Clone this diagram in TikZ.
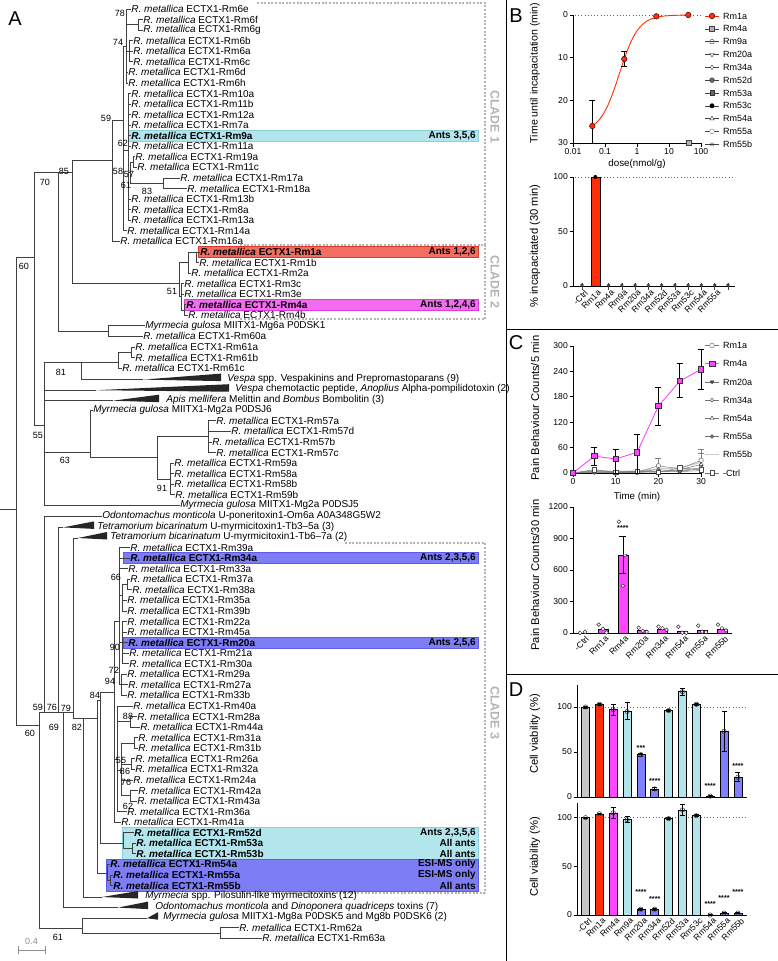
\documentclass[tikz,border=0pt]{standalone}
\usepackage{fontspec}
\setmainfont{Liberation Sans}
\usetikzlibrary{plotmarks}

\definecolor{hlcyan}{HTML}{B3E5EC}
\definecolor{hlcyanline}{HTML}{8CCFDA}
\definecolor{hlred}{HTML}{F26E62}
\definecolor{hlredline}{HTML}{D9392B}
\definecolor{hlmag}{HTML}{F46CF1}
\definecolor{hlmagline}{HTML}{DE3ADB}
\definecolor{hlblue}{HTML}{7D7DF5}
\definecolor{hlblueline}{HTML}{5B5BE6}
\definecolor{cladegray}{HTML}{B4B4B4}
\definecolor{redbar}{HTML}{FF2D0A}
\definecolor{magbar}{HTML}{FF45FF}
\definecolor{bluebar}{HTML}{7F7FFF}
\definecolor{cyanbar}{HTML}{B2E5EB}
\definecolor{graybar}{HTML}{C6C6C6}

\newcommand\leaffont{\fontsize{10}{10.5}\selectfont}
\newcommand\suppfont{\fontsize{9}{10}\selectfont}
\newcommand\tickfont{\fontsize{8.6}{9}\selectfont}
\newcommand\titlefont{\fontsize{11.2}{12}\selectfont}

\begin{document}
\begin{tikzpicture}[x=1pt,y=-1pt,
  leaf/.style={anchor=west, inner sep=0.2pt, font=\leaffont},
  boldleaf/.style={leaf, font=\leaffont\bfseries},
  branch/.style={draw=black!75, line width=0.7pt},
  supp/.style={inner sep=0pt, font=\suppfont},
  antsnote/.style={anchor=east, inner sep=0pt, font=\leaffont\bfseries},
  cladebox/.style={draw=cladegray, line width=1.4pt, dash pattern=on 2pt off 1.6pt},
  cladelab/.style={rotate=-90, text=cladegray, font=\fontsize{12.5}{13}\selectfont\bfseries},
  panellab/.style={inner sep=0pt, font=\fontsize{20}{20}\selectfont},
  axisline/.style={draw=black, line width=0.8pt},
  ticklab/.style={inner sep=1pt, font=\tickfont},
  axistitle/.style={rotate=90, inner sep=0pt, font=\titlefont},
  xtitle/.style={inner sep=0pt, font=\fontsize{9.8}{10}\selectfont},
  legendlab/.style={anchor=west, inner sep=0pt, font=\fontsize{9}{10}\selectfont},
  catlab/.style={rotate=45, anchor=north east, inner sep=0pt, font=\fontsize{8.6}{9}\selectfont},
  refline/.style={draw=black!60, line width=0.7pt, dash pattern=on 0.7pt off 2.5pt},
  errbar/.style={draw=black, line width=0.6pt},
  stars/.style={inner sep=0pt, font=\fontsize{7.2}{7.2}\selectfont\bfseries}]
\fill[white] (0,0) rectangle (778,961);
\useasboundingbox (0,0) rectangle (778,961);

\filldraw[fill=hlcyan, draw=hlcyanline, line width=0.6pt] (128,130.2) rectangle (478,141.2);
\filldraw[fill=hlred, draw=hlredline, line width=0.6pt] (198,246.4) rectangle (478,257.4);
\filldraw[fill=hlmag, draw=hlmagline, line width=0.6pt] (184,299.2) rectangle (478,310.2);
\filldraw[fill=hlblue, draw=hlblueline, line width=0.6pt] (123,552.6) rectangle (478,563.6);
\filldraw[fill=hlblue, draw=hlblueline, line width=0.6pt] (123,637.1) rectangle (478,648.1);
\filldraw[fill=hlcyan, draw=hlcyanline, line width=0.6pt] (122,827.4) rectangle (478,859.1);
\filldraw[fill=hlblue, draw=hlblueline, line width=0.6pt] (106,859.1) rectangle (478,890.8);

\draw[cladebox] (257,3) -- (485,3) -- (485,245);
\draw[cladebox] (240,245) -- (485,245) -- (485,319) -- (240,319);
\draw[cladebox] (345,543) -- (485,543) -- (485,893) -- (230,893);
\node[cladelab] (clade1) at (495,117) {CLADE 1};
\node[cladelab] (clade2) at (495,282) {CLADE 2};
\node[cladelab] (clade3) at (495,713) {CLADE 3};

\coordinate (rootstub) at (0,509);
\coordinate (root) at (16,509);
\coordinate (nA) at (34,257);
\coordinate (nB) at (58,172);
\coordinate (nD) at (72,172);
\coordinate (nF) at (112,160);
\coordinate (nJ) at (123,120);
\coordinate (nH) at (126,46);
\coordinate (n78) at (138,24.8);
\coordinate (n74) at (129,51.2);
\coordinate (nI) at (128,150);
\coordinate (n58) at (130,172);
\coordinate (n57) at (133,162.1);
\coordinate (n83) at (163,183.2);
\coordinate (nE) at (179,283);
\coordinate (nTop) at (188,262);
\coordinate (n1) at (196,251.9);
\coordinate (n51) at (181,296);
\coordinate (n4) at (184,310);
\coordinate (nMg6) at (108,331);
\coordinate (nC) at (44,425);
\coordinate (n81) at (81,362);
\coordinate (nR61) at (118,362);
\coordinate (n61ab) at (131,352.2);
\coordinate (n63) at (90,452);
\coordinate (n5759) at (157,457);
\coordinate (n57g) at (208,436.7);
\coordinate (n59g) at (170,479);
\coordinate (L0) at (39,725);
\coordinate (L1) at (44,712);
\coordinate (L2) at (58,712);
\coordinate (L3) at (63,712);
\coordinate (L4) at (73,712);
\coordinate (L5) at (83,718);
\coordinate (L6) at (97,718);
\coordinate (L7) at (100,700);
\coordinate (M1) at (114,692);
\coordinate (M2) at (119,621);
\coordinate (n66) at (122,595);
\coordinate (n3738) at (127,584.5);
\coordinate (n90) at (122,642.6);
\coordinate (n72) at (121,684.8);
\coordinate (M3) at (117,759);
\coordinate (n88) at (130,721.8);
\coordinate (n86) at (121,770);
\coordinate (n31) at (134,742.9);
\coordinate (n55b) at (131,764);
\coordinate (n62) at (130,795.7);
\coordinate (n52) at (123,843);
\coordinate (n53) at (132,848.5);
\coordinate (n55) at (107,873);
\coordinate (n55ab) at (110,880.2);
\coordinate (n61) at (82,928);
\coordinate (nR62) at (220,933);
\coordinate (a35) at (143,379.6);
\coordinate (a36) at (96,390.2);
\coordinate (a37) at (113,400.7);
\coordinate (a49) at (63,527.4);
\coordinate (a50) at (78,538);
\coordinate (a84) at (102,897);
\coordinate (a85) at (118,907.6);
\coordinate (a86) at (147,918.2);

\foreach \i/\x/\nm in {0/131/6e,1/143/6f,2/143/6g,3/133/6b,4/133/6a,5/133/6c,6/128/6d,7/128/6h,8/131/10a,9/131/11b,10/131/12a,11/131/7a,13/131/11a,14/135/19a,15/137/11c,16/180/17a,17/187/18a,18/131/13b,19/131/8a,20/131/13a,21/127/14a,22/120/16a,24/199/1b,25/191/2a,26/184/3c,27/184/3e,29/188/4b,31/143/60a,32/135/61a,33/135/61b,34/122/61c,39/216/57a,40/231/57d,41/212/57b,42/216/57c,43/174/59a,44/174/58a,45/174/58b,46/175/59b,51/130/39a,53/128/33a,54/130/37a,55/132/38a,56/127/35a,57/127/39b,58/127/22a,59/127/45a,61/129/21a,62/129/30a,63/127/29a,64/128/27a,65/127/33b,66/133/40a,67/137/28a,68/140/44a,69/138/31a,70/138/31b,71/135/26a,72/135/32a,73/133/24a,74/138/42a,75/137/43a,76/127/36a,77/121/41a,87/239/62a,88/262/63a}
  \node[leaf] (t\i) at (\x,{9+10.56*\i}) {\textit{R. metallica} ECTX1-Rm\nm};
\foreach \i/\x/\nm in {12/131/9a,23/200/1a,28/186/4a,52/130/34a,60/128/20a,78/134/52d,79/136/53a,80/136/53b,81/110/54a,82/113/55a,83/113/55b}
  \node[boldleaf] (t\i) at (\x,{9+10.56*\i}) {\textit{R. metallica} ECTX1-Rm\nm};
\node[leaf] (t30) at (145,{9+10.56*30}) {\textit{Myrmecia gulosa} MIITX1-Mg6a P0DSK1};
\node[leaf] (t35) at (227,{9+10.56*35}) {\textit{Vespa} spp. Vespakinins and Prepromastoparans (9)};
\node[leaf] (t36) at (235,{9+10.56*36}) {\textit{Vespa} chemotactic peptide, \textit{Anoplius} Alpha-pompilidotoxin (2)};
\node[leaf] (t37) at (166,{9+10.56*37}) {\textit{Apis mellifera} Melittin and \textit{Bombus} Bombolitin (3)};
\node[leaf] (t38) at (93,{9+10.56*38}) {\textit{Myrmecia gulosa} MIITX1-Mg2a P0DSJ6};
\node[leaf] (t47) at (180,{9+10.56*47}) {\textit{Myrmecia gulosa} MIITX1-Mg2a P0DSJ5};
\node[leaf] (t48) at (102,{9+10.56*48}) {\textit{Odontomachus monticola} U-poneritoxin1-Om6a A0A348G5W2};
\node[leaf] (t49) at (97,{9+10.56*49}) {\textit{Tetramorium bicarinatum} U-myrmicitoxin1-Tb3–5a (3)};
\node[leaf] (t50) at (110,{9+10.56*50}) {\textit{Tetramorium bicarinatum} U-myrmicitoxin1-Tb6–7a (2)};
\node[leaf] (t84) at (145,{9+10.56*84}) {\textit{Myrmecia} spp. Pilosulin-like myrmecitoxins (12)};
\node[leaf] (t85) at (155,{9+10.56*85}) {\textit{Odontomachus monticola} and \textit{Dinoponera quadriceps} toxins (7)};
\node[leaf] (t86) at (163,{9+10.56*86}) {\textit{Myrmecia gulosa} MIITX1-Mg8a P0DSK5 and Mg8b P0DSK6 (2)};

\draw[branch] (rootstub) -- (root);
\foreach \p/\c in {n78/t1,n78/t2,n74/t3,n74/t4,n74/t5,nH/t0,nH/n78,nH/n74,nH/t6,nH/t7,
    n57/t14,n57/t15,n83/t16,n83/t17,n58/n57,n58/n83,
    nI/t8,nI/t9,nI/t10,nI/t11,nI/t12,nI/t13,nI/n58,nI/t18,nI/t19,nI/t20,
    nJ/nH,nJ/nI,nJ/t21,nF/nJ,nF/t22,n1/t23,n1/t24,nTop/n1,nTop/t25,
    n4/t28,n4/t29,n51/t26,n51/t27,n51/n4,nE/nTop,nE/n51,nD/nF,nD/nE,
    nMg6/t30,nMg6/t31,nB/nD,nB/nMg6,n61ab/t32,n61ab/t33,nR61/n61ab,nR61/t34,
    n81/nR61,n81/a35,n57g/t39,n57g/t40,n57g/t41,n57g/t42,
    n59g/t43,n59g/t44,n59g/t45,n59g/t46,n5759/n57g,n5759/n59g,n63/t38,n63/n5759,
    nC/n81,nC/a36,nC/a37,nC/n63,nC/t47,nA/nB,nA/nC,root/nA,root/L0,
    n3738/t54,n3738/t55,n66/n3738,n66/t56,n66/t57,
    n90/t58,n90/t59,n90/t60,n90/t61,n90/t62,n72/t63,n72/t64,n72/t65,
    M2/t51,M2/t52,M2/t53,M2/n66,M2/n90,M2/n72,
    n88/t67,n88/t68,n31/t69,n31/t70,n55b/t71,n55b/t72,n62/t74,n62/t75,
    n86/n31,n86/n55b,n86/t73,n86/n62,M3/t66,M3/n88,M3/n86,M3/t76,
    M1/M2,M1/M3,M1/t77,n53/t79,n53/t80,n52/t78,n52/n53,
    n55ab/t82,n55ab/t83,n55/t81,n55/n55ab,
    L7/M1,L7/n52,L6/L7,L6/n55,L5/L6,L5/a84,L4/a50,L4/L5,L3/L4,L3/a85,
    L2/a49,L2/L3,L1/t48,L1/L2,nR62/t87,nR62/t88,n61/a86,n61/nR62,L0/L1,L0/n61}
  \draw[branch] (\p) |- (\c);
\foreach \a/\w in {a35/78,a36/133,a37/46,a49/31,a50/29,a84/36,a85/30,a86/11}
  \fill[black!85] (\a) -- ++(\w,-6) -- ++(0,7.5) -- cycle;

\node[antsnote] (an1) at (476,{9+10.56*12}) {Ants 3,5,6};
\node[antsnote] (an2) at (476,{9+10.56*23}) {Ants 1,2,6};
\node[antsnote] (an3) at (476,{9+10.56*28}) {Ants 1,2,4,6};
\node[antsnote] (an4) at (476,{9+10.56*52}) {Ants 2,3,5,6};
\node[antsnote] (an5) at (476,{9+10.56*60}) {Ants 2,5,6};
\node[antsnote] (an6) at (476,{9+10.56*78}) {Ants 2,3,5,6};
\node[antsnote] (an7) at (476,{9+10.56*79}) {All ants};
\node[antsnote] (an8) at (476,{9+10.56*80}) {All ants};
\node[antsnote] (an9) at (476,{9+10.56*81}) {ESI-MS only};
\node[antsnote] (an10) at (476,{9+10.56*82}) {ESI-MS only};
\node[antsnote] (an11) at (476,{9+10.56*83}) {All ants};

\foreach \s/\x/\y [count=\k] in {78/120/13,74/118/42,59/106/118,62/123/143,58/118/171,57/129/174,61/126/185,83/147/191,85/64/171,70/45/182,60/24/266,51/172/291,81/61/372,55/38/435,63/65/460,91/162/488,66/116/577,90/115/647,72/114/670,94/110/681,84/95/695,88/128/716,55/121/760,86/125/771,76/126/782,62/128/806,59/38/707,76/52/707,79/66/708,69/54/727,82/77/727,60/30/733,61/58/937}
  \node[supp] (s\k) at (\x,\y) {\s};

\coordinate (sbl) at (18,950);
\coordinate (sbr) at (45,950);
\draw[draw=black!45, line width=1pt] (sbl) -- (sbr) (18,946) -- (18,954) (45,946) -- (45,954);
\node[inner sep=0pt, text=black!45, font=\suppfont] (sblab) at (31.5,941) {0.4};

\node[panellab] (pA) at (15,19) {A};
\node[panellab] (pB) at (516,16) {B};
\node[panellab] (pC) at (516,343) {C};
\node[panellab] (pD) at (516,690) {D};
\draw[black, line width=0.9pt] (506,0) -- (506,961) (506,329) -- (778,329) (506,674) -- (778,674);

\node[axistitle, font=\fontsize{10.6}{11}\selectfont] (btitle1) at (535,73) {Time until incapacitation (min)};
\draw[refline] (575,15) -- (702,15);
\draw[axisline] (573,15) -- (573,143) -- (702,143);
\foreach \v in {0,10,20,30} {
  \draw[axisline] (569.5,{15+4.267*\v}) -- (573,{15+4.267*\v});
  \node[ticklab, anchor=east] (bty\v) at (569,{15+4.267*\v}) {\v};
}
\foreach \lab [count=\k from 0] in {0.01,0.1,1,10,100} {
  \draw[axisline] ({573+32*\k},143) -- ({573+32*\k},146.5);
  \node[ticklab, anchor=north] (btx\k) at ({573+32*\k},147) {\lab};
}
\node[xtitle] (bxtitle) at (637,164) {dose(nmol/g)};
\draw[redbar, line width=0.9pt, domain=-1.398:1.602, samples=80, smooth] plot ({573+32*(\x+2)},{15+4.267*27.5/(1+exp(3.3618*(\x+0.551)))});
\draw[errbar] (592.3,100.4) -- (592.3,143) (589.3,100.4) -- (595.3,100.4);
\draw[errbar] (624.3,51.7) -- (624.3,66.6) (621.3,51.7) -- (627.3,51.7) (621.3,66.6) -- (627.3,66.6);
\draw plot[only marks, mark=*, mark size=2.8pt, mark options={fill=redbar, draw=black}] coordinates {(592.3,126) (624.3,59) (656.3,16.3) (688.3,15)};
\draw plot[only marks, mark=square*, mark size=2.5pt, mark options={fill=black!30, draw=black!75}] coordinates {(688.3,143)};

\foreach \lab [count=\k from 0] in {Rm1a,Rm4a,Rm9a,Rm20a,Rm34a,Rm52d,Rm53a,Rm53c,Rm54a,Rm55a,Rm55b} {
  \draw[black!75, line width=0.6pt] (705,{16+12.83*\k}) -- (719,{16+12.83*\k});
  \node[legendlab] (bl\k) at (723,{16+12.83*\k}) {\lab};
}
\draw[redbar, line width=0.9pt] (705,16) -- (719,16);
\draw plot[only marks, mark=*, mark size=2.8pt, mark options={fill=redbar, draw=black}] coordinates {(712,16)};
\draw plot[only marks, mark=square*, mark size=2.4pt, mark options={fill=black!30, draw=black!75}] coordinates {(712,28.83)};
\draw plot[only marks, mark=*, mark size=2.3pt, mark options={fill=white, draw=black!80}] coordinates {(712,41.66)};
\draw[black!75, line width=0.6pt] (709.7,41.66) -- (714.3,41.66);
\draw plot[only marks, mark=triangle*, mark size=2.5pt, mark options={fill=white, draw=black!80, rotate=180}] coordinates {(712,54.49)};
\draw plot[only marks, mark=diamond*, mark size=2.3pt, mark options={fill=white, draw=black!80}] coordinates {(712,67.32)};
\draw plot[only marks, mark=*, mark size=2.4pt, mark options={fill=black!60, draw=black!80}] coordinates {(712,80.15)};
\draw plot[only marks, mark=square*, mark size=2.3pt, mark options={fill=black!60, draw=black!80}] coordinates {(712,92.98)};
\draw plot[only marks, mark=*, mark size=2.2pt, mark options={fill=black, draw=black}] coordinates {(712,105.81)};
\draw plot[only marks, mark=triangle*, mark size=2.6pt, mark options={fill=white, draw=black!80}] coordinates {(712,118.64)};
\draw plot[only marks, mark=*, mark size=2.4pt, mark options={fill=white, draw=black!55}] coordinates {(712,131.47)};
\draw plot[only marks, mark=x, mark size=2.6pt, mark options={draw=black!80}] coordinates {(712,144.3)};

\node[axistitle] (btitle2) at (535,246) {\% incapacitated (30 min)};
\draw[refline] (575,177) -- (735,177);
\draw[axisline] (573,177) -- (573,286) -- (735,286);
\foreach \v in {0,50,100} {
  \draw[axisline] (569.5,{286-1.09*\v}) -- (573,{286-1.09*\v});
  \node[ticklab, anchor=east] (bby\v) at (569,{286-1.09*\v}) {\v};
}
\filldraw[fill=redbar, draw=black, line width=0.6pt] (591,286) rectangle (600,177);
\fill[black] (595.3,177) circle (2pt);
\foreach \k in {0,2,3,4,5,6,7,8,9,10,11} {
  \draw[black!75, line width=0.6pt] ({582+13.27*\k},282.5) -- ({582+13.27*\k},289.5);
  \fill[black!75] ({582+13.27*\k},285) circle (1.8pt);
}
\foreach \lab [count=\k from 0] in {-Ctrl,Rm1a,Rm4a,Rm9a,Rm20a,Rm34a,Rm52d,Rm53a,Rm53c,Rm54a,Rm55a}
  \node[catlab] (bc\k) at ({584+13.27*\k},289) {\lab};

\node[axistitle] (ctitle1) at (535,408) {Pain Behaviour Counts/5 min};
\draw[axisline] (573,346) -- (573,473) -- (702,473);
\foreach \v in {0,60,120,180,240,300} {
  \draw[axisline] (569.5,{473-0.4233*\v}) -- (573,{473-0.4233*\v});
  \node[ticklab, anchor=east] (cty\v) at (569,{473-0.4233*\v}) {\v};
}
\foreach \t in {0,10,20,30} {
  \draw[axisline] ({573+4.27*\t},473) -- ({573+4.27*\t},476.5);
  \node[ticklab, anchor=north] (ctx\t) at ({573+4.27*\t},477) {\t};
}
\node[xtitle] (cxtitle) at (637,497) {Time (min)};
\draw[errbar, black!50] (658.4,457.8) -- (658.4,473) (655.4,457.8) -- (661.4,457.8);
\draw[errbar, black!50] (701.1,449.7) -- (701.1,473) (698.1,449.7) -- (704.1,449.7);
\draw[errbar, black!50] (701.1,453.5) -- (701.1,473) (698.1,453.5) -- (704.1,453.5);
\draw[errbar, black!50] (679.75,466.6) -- (679.75,473) (676.75,466.6) -- (682.75,466.6);
\draw[black!20, line width=1.1pt] plot coordinates {(573,473) (594.35,470.5) (615.7,471.3) (637.05,470.9) (658.4,468.8) (679.75,467.9) (701.1,462.4)};
\draw[black!50, line width=0.5pt] plot[mark=*, mark size=2.3pt, mark options={fill=white, draw=black!60}] coordinates {(573,473) (594.35,471.7) (615.7,473) (637.05,472.2) (658.4,465.8) (679.75,468.8) (701.1,460.3)};
\draw[black!50, line width=0.5pt] plot[mark=triangle*, mark size=2pt, mark options={fill=black!70, draw=black!80, rotate=180}] coordinates {(573,473) (594.35,470.5) (615.7,472.2) (637.05,471.3) (658.4,471.7) (679.75,470.5) (701.1,467.9)};
\draw[black!50, line width=0.5pt] plot[mark=diamond*, mark size=2pt, mark options={fill=white, draw=black!80}] coordinates {(573,473) (594.35,471.3) (615.7,472.6) (637.05,471.7) (658.4,469.6) (679.75,471.3) (701.1,468.8)};
\draw[black!50, line width=0.5pt] plot[mark=triangle*, mark size=2.3pt, mark options={fill=white, draw=black!80}] coordinates {(573,473) (594.35,472.2) (615.7,471.7) (637.05,471.7) (658.4,472.2) (679.75,469.6) (701.1,464.5)};
\draw[black!50, line width=0.5pt] plot[mark=*, mark size=1.8pt, mark options={fill=black!50, draw=black!80}] coordinates {(573,473) (594.35,472.6) (615.7,472.2) (637.05,472.6) (658.4,471.3) (679.75,471.7) (701.1,470.5)};
\draw[black!50, line width=0.5pt] plot[mark=square*, mark size=2.3pt, mark options={fill=white, draw=black!70}] coordinates {(573,473) (594.35,469.6) (615.7,472.2) (637.05,471.3) (658.4,472.2) (679.75,467.9) (701.1,469.6)};
\foreach \x/\lo/\hi in {594.35/465/446.8,615.7/473/448.9,637.05/473/434.5,658.4/425.2/387.1,679.75/397.7/363.4,701.1/389.6/349.4}
  \draw[errbar] (\x,\lo) -- (\x,\hi) (\x-3,\hi) -- (\x+3,\hi) (\x-3,\lo) -- (\x+3,\lo);
\draw[magbar, line width=0.9pt] plot[mark=square*, mark size=2.7pt, mark options={fill=magbar, draw=black!80}] coordinates {(573,473) (594.35,456.1) (615.7,459) (637.05,452.3) (658.4,406.1) (679.75,381.1) (701.1,369.3)};

\foreach \lab [count=\k from 0] in {Rm1a,Rm4a,Rm20a,Rm34a,Rm54a,Rm55a,Rm55b,-Ctrl} {
  \draw[black!55, line width=0.6pt] (705,{345.5+18.2*\k}) -- (719,{345.5+18.2*\k});
  \node[legendlab] (cleg\k) at (723,{345.5+18.2*\k}) {\lab};
}
\draw[magbar, line width=0.9pt] (705,363.7) -- (719,363.7);
\draw[black!20, line width=1.3pt] (705,454.7) -- (719,454.7);
\draw plot[only marks, mark=*, mark size=2.3pt, mark options={fill=white, draw=black!60}] coordinates {(712,345.5)};
\draw plot[only marks, mark=square*, mark size=2.7pt, mark options={fill=magbar, draw=black!80}] coordinates {(712,363.7)};
\draw plot[only marks, mark=triangle*, mark size=2pt, mark options={fill=black!70, draw=black!80, rotate=180}] coordinates {(712,381.9)};
\draw plot[only marks, mark=diamond*, mark size=2pt, mark options={fill=white, draw=black!80}] coordinates {(712,400.1)};
\draw plot[only marks, mark=triangle*, mark size=2.3pt, mark options={fill=white, draw=black!80}] coordinates {(712,418.3)};
\draw plot[only marks, mark=*, mark size=1.8pt, mark options={fill=black!50, draw=black!80}] coordinates {(712,436.5)};
\draw plot[only marks, mark=square*, mark size=2.3pt, mark options={fill=white, draw=black!70}] coordinates {(712,472.9)};

\node[axistitle] (ctitle2) at (535,575) {Pain Behaviour Counts/30 min};
\draw[axisline] (573,507) -- (573,633) -- (732,633);
\foreach \v in {0,300,600,900,1200} {
  \draw[axisline] (569.5,{633-0.105*\v}) -- (573,{633-0.105*\v});
  \node[ticklab, anchor=east] (cby\v) at (569,{633-0.105*\v}) {\v};
}
\foreach \v [count=\k] in {35,740,25,40,20,25,40}
  \filldraw[fill=magbar, draw=black, line width=0.6pt] ({578+19.9*\k},633) rectangle ({588+19.9*\k},{633-0.105*\v});
\draw[errbar] (622.8,573.2) -- (622.8,536.4) (619.3,536.4) -- (626.3,536.4) (619.3,573.2) -- (626.3,573.2);
\foreach \x/\v in {580/2,585/10,598.8/80,602.9/40,606.5/5,618.8/1060,622.8/450,638.7/50,642.7/20,646.7/10,658.5/60,662.5/45,666.5/30,678.4/60,682.3/2,686.2/2,698.2/70,702.1/12,706/8,718/80,722/45,726/25}
  \draw[black!80, line width=0.5pt, fill=white] (\x,{633-0.105*\v}) circle (1.9pt);
\draw plot[only marks, mark=triangle*, mark size=2.2pt, mark options={fill=white, draw=black!80, rotate=180}] coordinates {(625,555.3)};
\node[stars] (cst) at (622.8,528) {****};
\foreach \lab [count=\k from 0] in {-Ctrl,Rm1a,Rm4a,Rm20a,Rm34a,Rm54a,Rm55a,Rm55b}
  \node[catlab] (cc\k) at ({585+19.9*\k},635) {\lab};

\node[axistitle] (dtitle1) at (535,734) {Cell viability (\%)};
\draw[refline] (579,707) -- (747,707);
\draw[axisline] (577,685) -- (577,797) -- (747,797);
\foreach \v in {0,50,100} {
  \draw[axisline] (573.5,{797-0.9*\v}) -- (577,{797-0.9*\v});
  \node[ticklab, anchor=east] (dty\v) at (573,{797-0.9*\v}) {\v};
}
\foreach \c/\v/\lo/\hi [count=\k from 0] in {graybar/100/99/101,redbar/103/102/104,magbar/97/91/103,cyanbar/95/86/105,bluebar/47/45/49,bluebar/9/7/11,cyanbar/96/95/97,cyanbar/117/113/121,cyanbar/103/102/104,bluebar/1/0/2,bluebar/73/51/95,bluebar/22/17/27} {
  \filldraw[fill=\c, draw=black, line width=0.6pt] ({581.5+13.85*\k},797) rectangle ({589.5+13.85*\k},{797-0.9*\v});
  \draw[errbar] ({585.5+13.85*\k},{797-0.9*\lo}) -- ({585.5+13.85*\k},{797-0.9*\hi}) ({583+13.85*\k},{797-0.9*\hi}) -- ({588+13.85*\k},{797-0.9*\hi}) ({583+13.85*\k},{797-0.9*\lo}) -- ({588+13.85*\k},{797-0.9*\lo});
  \draw[black!80, line width=0.5pt] ({585.5+13.85*\k},{797-0.9*\v}) circle (2.2pt);
}
\node[stars] (dst1) at (640.9,748) {***};
\node[stars] (dst2) at (654.75,781) {****};
\node[stars] (dst3) at (710.15,786) {****};
\node[stars] (dst4) at (737.85,766) {****};

\node[axistitle] (dtitle2) at (535,857) {Cell viability (\%)};
\draw[refline] (579,817.7) -- (747,817.7);
\draw[axisline] (577,803) -- (577,915) -- (747,915);
\foreach \v in {0,50,100} {
  \draw[axisline] (573.5,{915-0.973*\v}) -- (577,{915-0.973*\v});
  \node[ticklab, anchor=east] (dby\v) at (573,{915-0.973*\v}) {\v};
}
\foreach \c/\v/\lo/\hi [count=\k from 0] in {graybar/100/99.5/100.5,redbar/104/103/105,magbar/105/99/111,cyanbar/98/95/101,bluebar/6/5/7,bluebar/6/5/7,cyanbar/99/98/100,cyanbar/108/102/114,cyanbar/102/101/103,bluebar/0/0/0.5,bluebar/2/1.5/2.5,bluebar/2/1.5/2.5} {
  \filldraw[fill=\c, draw=black, line width=0.6pt] ({581.5+13.85*\k},915) rectangle ({589.5+13.85*\k},{915-0.973*\v});
  \draw[errbar] ({585.5+13.85*\k},{915-0.973*\lo}) -- ({585.5+13.85*\k},{915-0.973*\hi}) ({583+13.85*\k},{915-0.973*\hi}) -- ({588+13.85*\k},{915-0.973*\hi}) ({583+13.85*\k},{915-0.973*\lo}) -- ({588+13.85*\k},{915-0.973*\lo});
  \draw[black!80, line width=0.5pt] ({585.5+13.85*\k},{915-0.973*\v}) circle (2.2pt);
}
\node[stars] (dsb1) at (640.9,892) {****};
\node[stars] (dsb2) at (654.75,899) {****};
\node[stars] (dsb3) at (710.15,904) {****};
\node[stars] (dsb4) at (724,898) {****};
\node[stars] (dsb5) at (737.85,892) {****};
\foreach \lab [count=\k from 0] in {-Ctrl,Rm1a,Rm4a,Rm9a,Rm20a,Rm34a,Rm52d,Rm53a,Rm53c,Rm54a,Rm55a,Rm55b}
  \node[catlab] (dc\k) at ({588+13.85*\k},917) {\lab};
\end{tikzpicture}
\end{document}
